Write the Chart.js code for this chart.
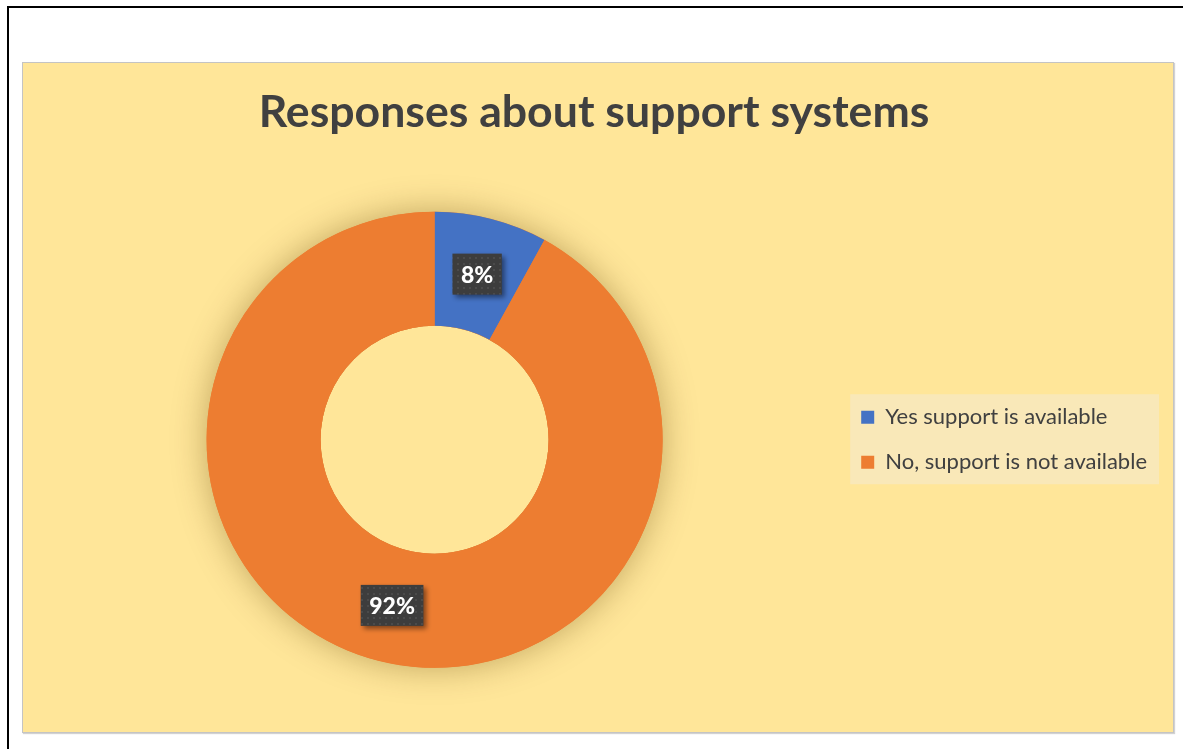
<!DOCTYPE html>
<html>
<head>
<meta charset="utf-8">
<script src="https://cdn.jsdelivr.net/npm/chart.js@4.4.1/dist/chart.umd.min.js"></script>
<style>
  html, body { margin: 0; padding: 0; background: #fff; overflow: hidden; }
  #frame {
    position: absolute; left: 7px; top: 6px; width: 1300px; height: 900px;
    border-top: 2px solid #000; border-left: 2px solid #000;
  }
  #box {
    position: absolute; left: 22px; top: 62px; width: 1152px; height: 671px;
    box-sizing: border-box; border: 1px solid #c4c4c4; background: #FFE699;
    box-shadow: 1px 1px 1px #d2d2d2;
  }
  #box canvas { display: block; }
</style>
</head>
<body>
<div id="frame"></div>
<div id="box"><canvas id="chart"></canvas></div>
<script>
// chart data
const categories = ["Yes support is available", "No, support is not available"];
const responses = [8, 92];
const sliceColors = ["#4472C4", "#ED7D31"];
const chartTitle = "Responses about support systems";

const textColor = "#404040";

// small dotted fill used behind the data labels
function dotPattern(ctx) {
  const c = document.createElement("canvas");
  c.width = 6; c.height = 6;
  const p = c.getContext("2d");
  p.fillStyle = "#3d3d3d";
  p.fillRect(0, 0, 6, 6);
  p.fillStyle = "#4b4b4b";
  p.fillRect(2, 2, 2, 2);
  return ctx.createPattern(c, "repeat");
}

// soft glow behind the ring (hole left clean)
const ringShadow = {
  id: "ringShadow",
  beforeDatasetsDraw(chart) {
    const arc = chart.getDatasetMeta(0).data[0];
    if (!arc) return;
    const { x, y, innerRadius, outerRadius } = arc.getProps(["x", "y", "innerRadius", "outerRadius"], true);
    const ctx = chart.ctx;
    ctx.save();
    ctx.beginPath();
    ctx.rect(0, 0, chart.width, chart.height);
    ctx.arc(x, y, innerRadius, 0, Math.PI * 2);
    ctx.clip("evenodd");
    ctx.shadowColor = "rgba(90,60,0,0.38)";
    ctx.shadowBlur = 34;
    ctx.fillStyle = sliceColors[1];
    ctx.beginPath();
    ctx.arc(x, y, outerRadius, 0, Math.PI * 2);
    ctx.fill();
    ctx.restore();
  }
};

// percentage labels in dark boxes
const percentLabels = {
  id: "percentLabels",
  afterDatasetsDraw(chart) {
    const ctx = chart.ctx;
    const meta = chart.getDatasetMeta(0);
    const vals = chart.data.datasets[0].data;
    const total = vals.reduce((a, b) => a + b, 0);
    const pattern = dotPattern(ctx);
    ctx.save();
    ctx.font = "900 23px Lato";
    meta.data.forEach((arc, i) => {
      const pos = arc.tooltipPosition();
      const txt = Math.round(vals[i] / total * 100) + "%";
      const w = ctx.measureText(txt).width + 17;
      const h = 41;
      ctx.save();
      ctx.shadowColor = "rgba(0,0,0,0.45)";
      ctx.shadowBlur = 5;
      ctx.shadowOffsetX = 3;
      ctx.shadowOffsetY = 3;
      ctx.fillStyle = pattern;
      ctx.fillRect(pos.x - w / 2, pos.y - h / 2, w, h);
      ctx.restore();
      ctx.fillStyle = "#ffffff";
      ctx.textAlign = "center";
      ctx.textBaseline = "middle";
      ctx.fillText(txt, pos.x, pos.y + 1);
    });
    ctx.restore();
  }
};

// light panel behind the legend
const legendPanel = {
  id: "legendPanel",
  beforeDraw(chart) {
    const lg = chart.legend;
    if (!lg || !lg.legendHitBoxes || !lg.legendHitBoxes.length) return;
    const hb = lg.legendHitBoxes;
    const top = hb[0].top + hb[0].height / 2 - 23;
    const bottom = hb[hb.length - 1].top + hb[hb.length - 1].height / 2 + 22;
    const ctx = chart.ctx;
    ctx.save();
    ctx.fillStyle = "#F9E8B8";
    ctx.fillRect(lg.left + 12, top, lg.right - lg.left - 10, bottom - top);
    ctx.restore();
  }
};

new Chart(document.getElementById("chart"), {
  type: "doughnut",
  data: {
    labels: categories,
    datasets: [
      {
        data: responses,
        backgroundColor: sliceColors,
        borderWidth: 0,
      },
    ],
  },
  options: {
    responsive: true,
    maintainAspectRatio: false,
    animation: false,
    cutout: "50%",
    radius: 228,
    layout: { padding: { top: 23, bottom: 35, left: 8, right: 16 } },
    plugins: {
      title: {
        display: true,
        text: chartTitle,
        color: textColor,
        font: { family: "Lato", size: 44.6, weight: "bold", lineHeight: 1.2 },
        padding: { top: 0, bottom: 43 },
      },
      legend: {
        position: "right",
        fullSize: false,
        labels: {
          color: textColor,
          font: { family: "Lato", size: 22 },
          boxWidth: 13,
          boxHeight: 13,
          padding: 23,
        },
      },
      tooltip: { enabled: false },
    },
  },
  plugins: [ringShadow, percentLabels, legendPanel],
});
</script>
</body>
</html>
